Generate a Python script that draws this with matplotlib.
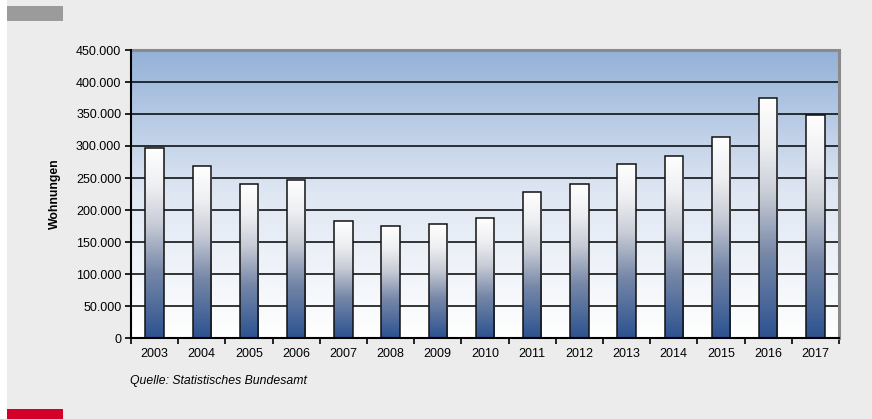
import numpy as np
import matplotlib
matplotlib.use("Agg")
import matplotlib.pyplot as plt
from matplotlib.colors import LinearSegmentedColormap
from matplotlib.patches import Rectangle
from matplotlib.ticker import FuncFormatter, MultipleLocator, FixedLocator

plt.rcParams["font.family"] = ["Liberation Sans", "DejaVu Sans"]

# Baugenehmigungen für Wohnungen
years = ["2003", "2004", "2005", "2006", "2007", "2008", "2009", "2010",
         "2011", "2012", "2013", "2014", "2015", "2016", "2017"]
wohnungen = [296823, 268123, 240571, 247541, 182336, 174595, 177570, 187667,
             228311, 241090, 272433, 285079, 313296, 375388, 347882]

y_max = 450000
y_step = 50000

W, H = 872, 419
fig = plt.figure(figsize=(W / 100, H / 100), dpi=100)
fig.patch.set_facecolor("white")

# outer panel and colour tags
fig.add_artist(Rectangle((7 / W, 0), 1 - 7 / W, 1, transform=fig.transFigure,
                         facecolor="#ebeceb", edgecolor="none", zorder=0))
fig.add_artist(Rectangle((7 / W, 1 - 21 / H), 56 / W, 15 / H, transform=fig.transFigure,
                         facecolor="#9b9b9b", edgecolor="none", zorder=1))
fig.add_artist(Rectangle((7 / W, 0), 56 / W, 10 / H, transform=fig.transFigure,
                         facecolor="#d5002a", edgecolor="none", zorder=1))

left, right, top, bottom = 131, 839, 50, 338
ax = fig.add_axes([left / W, 1 - bottom / H, (right - left) / W, (bottom - top) / H])
ax.set_facecolor("none")

n = len(years)
x = np.arange(n)
ax.set_xlim(-0.5, n - 0.5)
ax.set_ylim(0, y_max)

# plot area background: blue at top fading to white
bg_cmap = LinearSegmentedColormap.from_list("bg", ["#ffffff", "#dfe7f3", "#93b1d8"])
grad = np.linspace(0, 1, 256).reshape(-1, 1)
ax.imshow(grad, cmap=bg_cmap, aspect="auto", origin="lower",
          extent=(-0.5, n - 0.5, 0, y_max), zorder=0, interpolation="bilinear")

# horizontal grid
for yv in np.arange(y_step, y_max, y_step):
    ax.axhline(yv, color="black", lw=1.1, zorder=1)

# bars with a vertical white-to-blue gradient
bar_cmap = LinearSegmentedColormap.from_list(
    "bar", [(0.0, "#2c5290"), (0.35, "#7788a8"), (0.6, "#c8ccd6"),
            (0.8, "#eeeff2"), (1.0, "#ffffff")])
bw = 0.39
for xi, v in zip(x, wohnungen):
    im = ax.imshow(grad, cmap=bar_cmap, aspect="auto", origin="lower",
                   extent=(xi - bw / 2, xi + bw / 2, 0, v), zorder=2,
                   interpolation="bilinear")
    rect = Rectangle((xi - bw / 2, 0), bw, v, facecolor="none",
                     edgecolor="#111111", lw=1.1, zorder=3)
    ax.add_patch(rect)
    im.set_clip_path(rect)

ax.set_xlim(-0.5, n - 0.5)
ax.set_ylim(0, y_max)

# spines
for s in ("left", "bottom"):
    ax.spines[s].set_color("black")
    ax.spines[s].set_linewidth(1.5)
    ax.spines[s].set_zorder(4)
for s in ("top", "right"):
    ax.spines[s].set_color("#8a8a8a")
    ax.spines[s].set_linewidth(2.2)

ax.yaxis.set_major_locator(MultipleLocator(y_step))
ax.yaxis.set_major_formatter(FuncFormatter(lambda v, p: f"{int(v):,}".replace(",", ".")))
ax.tick_params(axis="y", direction="out", length=4, width=1.2, labelsize=9,
               colors="black", pad=3)

ax.xaxis.set_major_locator(FixedLocator(np.arange(-0.5, n, 1.0)))
ax.xaxis.set_major_formatter(FuncFormatter(lambda v, p: ""))
ax.xaxis.set_minor_locator(FixedLocator(x))
ax.set_xticklabels(years, minor=True)
ax.tick_params(axis="x", which="major", direction="out", length=4, width=1.2)
ax.tick_params(axis="x", which="minor", length=0, labelsize=9, pad=7)

ax.set_ylabel("Wohnungen", fontsize=8.8, fontweight="bold", labelpad=11)

fig.text(130 / W, 1 - 381 / H, "Quelle: Statistisches Bundesamt", fontsize=8.8,
         style="italic", ha="left", va="center")

fig.savefig("out.png", dpi=100, facecolor=fig.get_facecolor())
